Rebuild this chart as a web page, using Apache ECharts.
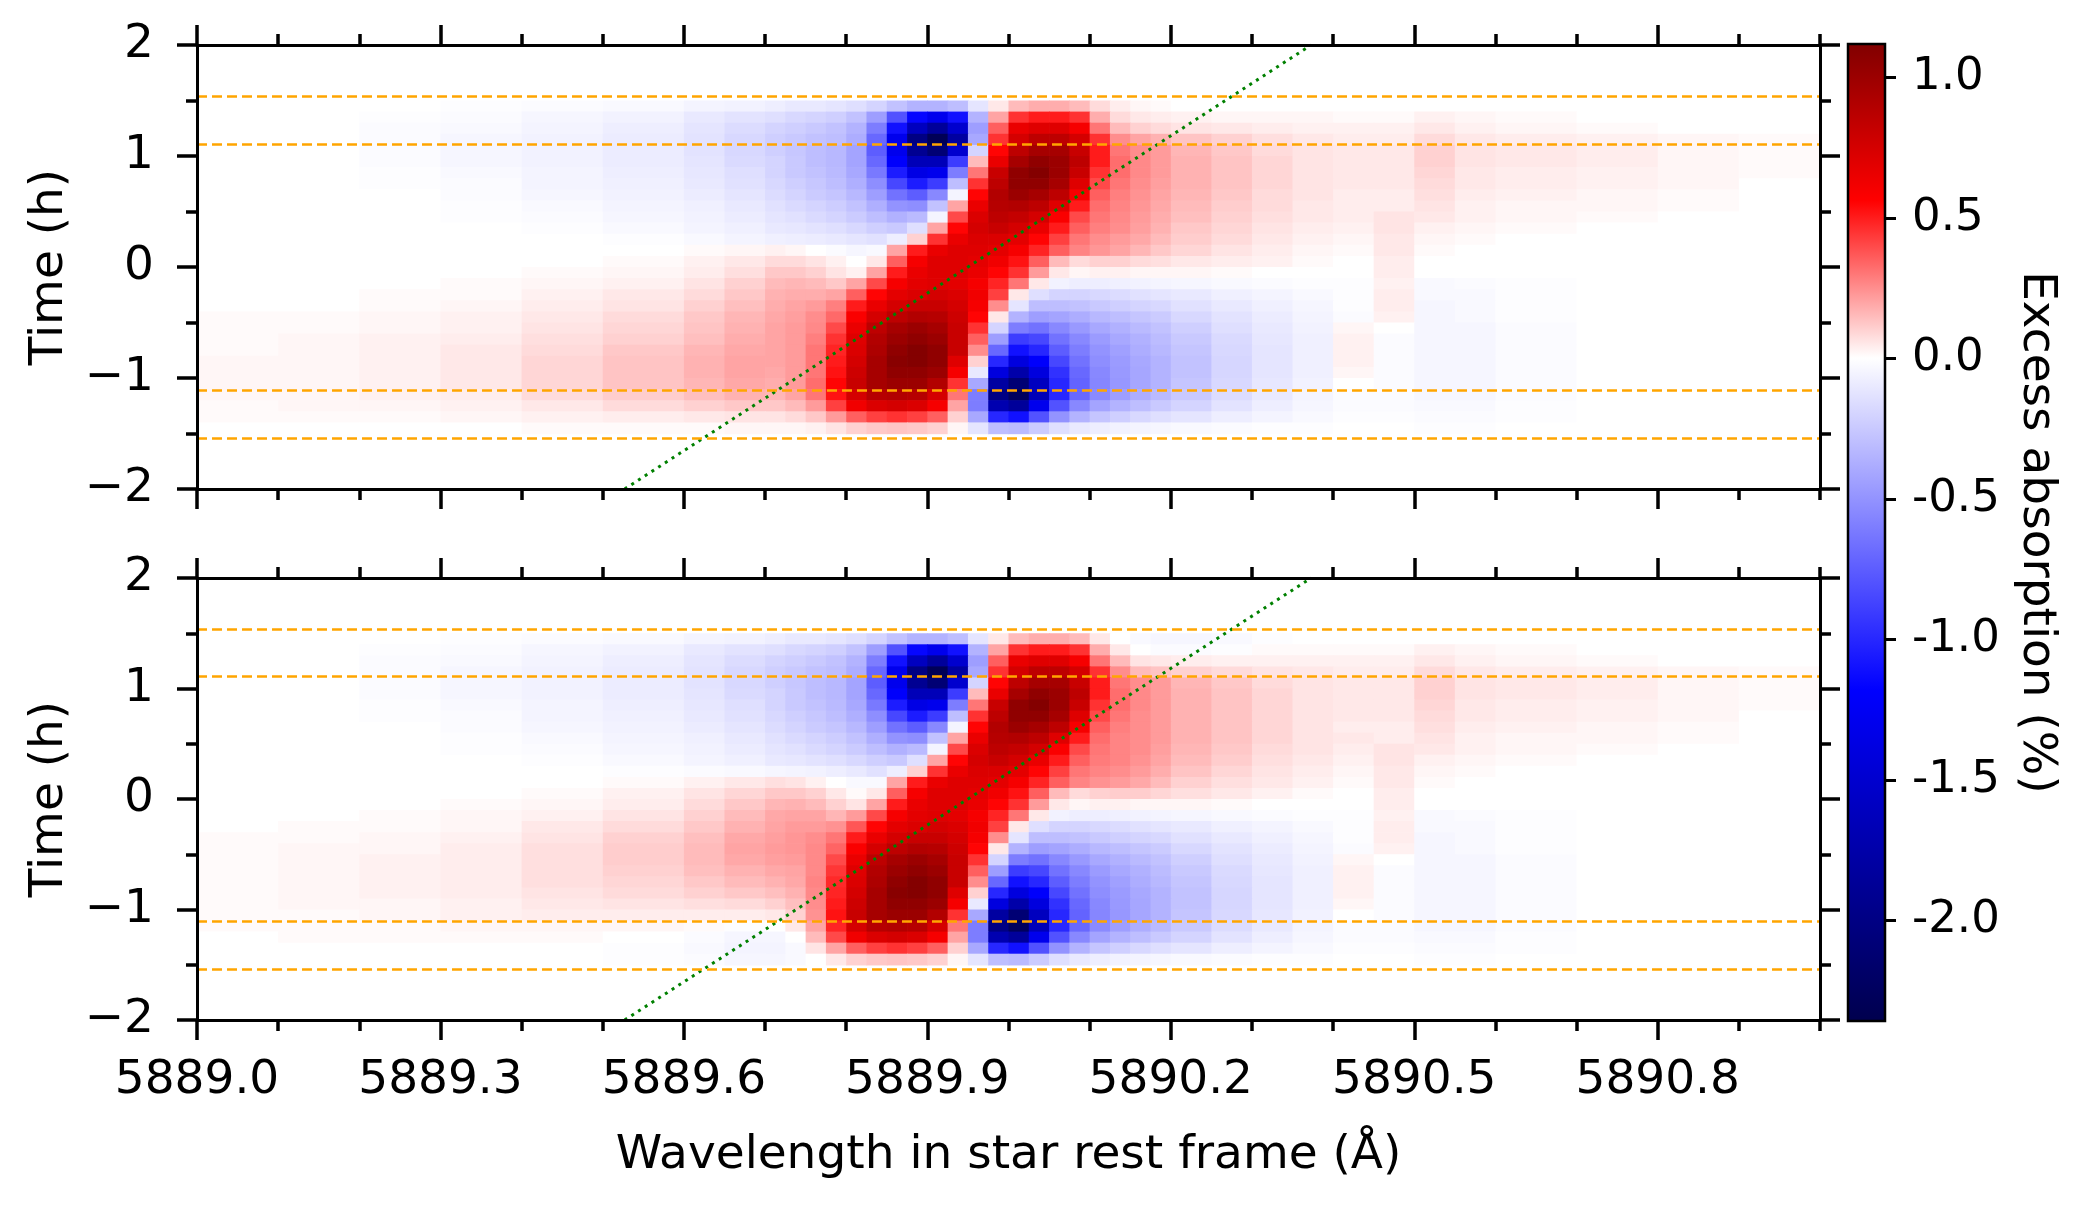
<!DOCTYPE html>
<html>
<head>
<meta charset="utf-8">
<script src="https://cdn.jsdelivr.net/npm/echarts@6/dist/echarts.min.js"></script>
<style>
  html, body { margin: 0; padding: 0; background: #fff; }
  #main { width: 2080px; height: 1205px; }
</style>
</head>
<body>
<div id="main"></div>
<script>
// cell edges in wavelength (Å) and time (h); finer columns around the line core
const waveEdges = [5889.0, 5889.1, 5889.2, 5889.3, 5889.4, 5889.5, 5889.6, 5889.65, 5889.7,
  5889.725, 5889.75, 5889.775, 5889.8, 5889.825, 5889.85, 5889.875, 5889.9, 5889.925, 5889.95,
  5889.975, 5890.0, 5890.025, 5890.05, 5890.075, 5890.1, 5890.125, 5890.15, 5890.175, 5890.2,
  5890.25, 5890.3, 5890.35, 5890.4, 5890.45, 5890.5, 5890.55, 5890.6, 5890.7, 5890.8, 5890.9, 5891.0];
const timeEdges = [1.5, 1.4, 1.3, 1.2, 1.1, 1.0, 0.9, 0.8, 0.7, 0.6, 0.5, 0.4, 0.3, 0.2, 0.1, 0.0,
  -0.1, -0.2, -0.3, -0.4, -0.5, -0.6, -0.7, -0.8, -0.9, -1.0, -1.1, -1.2, -1.3, -1.4, -1.5];

// excess absorption (%), one row per time step from t=1.45 down to t=-1.45
const topPanel = [
  [0,0,0,-0.01,-0.02,-0.03,-0.05,-0.06, -0.08,-0.1,-0.1,-0.12,-0.15,-0.2,-0.28,-0.35,-0.35,-0.3,-0.12,0.05,0.15,0.18,0.18,0.15,0.08,0.04,0.02,0.01, 0,0,0,0,0,0,0,0,0,0,0,0],
  [0,0,-0.01,-0.02,-0.04,-0.06,-0.1,-0.13, -0.15,-0.18,-0.2,-0.22,-0.28,-0.45,-0.8,-1.15,-1.3,-1.1,-0.35,0.2,0.45,0.5,0.5,0.45,0.18,0.08,0.05,0.04, 0.03,0.02,0.02,0.02,0.01,0.01,0.03,0.02,0.01,0,0,0],
  [0,0,-0.02,-0.03,-0.05,-0.08,-0.12,-0.16, -0.2,-0.22,-0.25,-0.28,-0.35,-0.6,-1.1,-1.6,-1.85,-1.5,-0.45,0.35,0.65,0.7,0.7,0.6,0.3,0.15,0.1,0.08, 0.06,0.05,0.04,0.03,0.03,0.03,0.05,0.03,0.02,0.01,0,0],
  [0,0,-0.02,-0.04,-0.06,-0.09,-0.13,-0.18, -0.22,-0.25,-0.28,-0.3,-0.38,-0.7,-1.3,-2.0,-2.3,-1.8,-0.4,0.45,0.75,0.85,0.85,0.75,0.45,0.25,0.2,0.17, 0.13,0.1,0.07,0.05,0.04,0.04,0.08,0.05,0.04,0.03,0.02,0.01],
  [0,0,-0.02,-0.04,-0.06,-0.09,-0.13,-0.18, -0.22,-0.26,-0.3,-0.33,-0.42,-0.75,-1.3,-1.9,-2.1,-1.5,-0.2,0.55,0.85,0.95,0.95,0.8,0.5,0.3,0.25,0.22, 0.16,0.12,0.08,0.06,0.05,0.05,0.1,0.06,0.05,0.04,0.02,0.01],
  [0,0,-0.02,-0.04,-0.06,-0.09,-0.12,-0.17, -0.2,-0.25,-0.3,-0.33,-0.42,-0.7,-1.2,-1.65,-1.65,-0.9,0.15,0.65,0.95,1.05,1.0,0.85,0.5,0.32,0.26,0.22, 0.17,0.13,0.09,0.06,0.05,0.05,0.1,0.06,0.05,0.04,0.02,0.01],
  [0,0,-0.01,-0.03,-0.05,-0.08,-0.11,-0.15, -0.2,-0.25,-0.28,-0.32,-0.4,-0.62,-1.05,-1.35,-1.3,-0.6,0.3,0.8,1.05,1.1,1.0,0.8,0.45,0.32,0.26,0.22, 0.17,0.13,0.09,0.06,0.05,0.05,0.09,0.05,0.04,0.03,0.02,0.01],
  [0,0,-0.01,-0.02,-0.05,-0.07,-0.1,-0.14, -0.18,-0.22,-0.26,-0.3,-0.37,-0.52,-0.85,-1.05,-0.9,-0.3,0.45,0.85,1.05,1.05,0.95,0.7,0.4,0.3,0.25,0.21, 0.17,0.13,0.09,0.06,0.05,0.05,0.08,0.05,0.04,0.03,0.02,0],
  [0,0,0,-0.02,-0.04,-0.06,-0.09,-0.12, -0.16,-0.2,-0.24,-0.27,-0.33,-0.45,-0.65,-0.75,-0.55,-0.05,0.55,0.9,1.0,0.95,0.85,0.6,0.35,0.28,0.24,0.2, 0.16,0.12,0.08,0.06,0.04,0.04,0.07,0.04,0.03,0.02,0.01,0],
  [0,0,0,-0.01,-0.03,-0.05,-0.07,-0.1, -0.14,-0.17,-0.2,-0.23,-0.28,-0.37,-0.5,-0.52,-0.28,0.2,0.65,0.88,0.9,0.85,0.7,0.5,0.32,0.27,0.23,0.19, 0.15,0.11,0.08,0.05,0.04,0.04,0.06,0.03,0.02,0.02,0.01,0],
  [0,0,0,-0.01,-0.02,-0.04,-0.06,-0.09, -0.12,-0.14,-0.17,-0.2,-0.24,-0.3,-0.36,-0.32,-0.05,0.4,0.72,0.85,0.82,0.75,0.58,0.4,0.3,0.26,0.22,0.18, 0.14,0.1,0.07,0.05,0.04,0.06,0.05,0.03,0.02,0.01,0,0],
  [0,0,0,0,-0.01,-0.03,-0.05,-0.07, -0.1,-0.11,-0.13,-0.15,-0.18,-0.22,-0.25,-0.15,0.2,0.55,0.75,0.8,0.75,0.65,0.5,0.35,0.28,0.25,0.21,0.17, 0.12,0.09,0.06,0.04,0.03,0.06,0.03,0.02,0.01,0,0,0],
  [0,0,0,0,0,-0.01,-0.03,-0.05, -0.07,-0.08,-0.09,-0.1,-0.12,-0.14,-0.08,0.1,0.45,0.65,0.72,0.72,0.68,0.55,0.42,0.3,0.25,0.22,0.19,0.15, 0.11,0.08,0.05,0.03,0.02,0.05,0.02,0.01,0,0,0,0],
  [0,0,0,0,0,0,0.01,0.02, 0.03,0.02,0,-0.02,-0.04,-0.03,0.2,0.5,0.65,0.7,0.7,0.68,0.6,0.48,0.35,0.27,0.23,0.2,0.16,0.12, 0.09,0.06,0.04,0.02,0.01,0.05,0.01,0,0,0,0,0],
  [0,0,0,0,0,0.01,0.03,0.05, 0.08,0.08,0.06,0.03,0,0.05,0.35,0.6,0.7,0.7,0.68,0.62,0.52,0.35,0.15,0.08,0.1,0.1,0.08,0.07, 0.05,0.04,0.03,0.01,0,0.04,0,0,0,0,0,0],
  [0,0,0,0,0.01,0.02,0.04,0.07, 0.12,0.12,0.1,0.06,0.03,0.2,0.5,0.65,0.7,0.7,0.65,0.55,0.45,0.22,0.05,0.02,0.03,0.03,0.02,0.02, 0.02,0.01,0,0,0,0.04,0,0,0,0,0,0],
  [0,0,0,0.01,0.02,0.03,0.06,0.1, 0.15,0.16,0.15,0.12,0.2,0.4,0.6,0.68,0.7,0.68,0.6,0.48,0.3,0.05,-0.06,-0.08,-0.08,-0.07,-0.06,-0.05, -0.04,-0.03,-0.02,-0.01,-0.01,0.03,-0.03,-0.02,-0.01,0,0,0],
  [0,0,0.01,0.01,0.03,0.05,0.08,0.12, 0.17,0.18,0.18,0.2,0.35,0.55,0.68,0.72,0.75,0.72,0.62,0.42,0.05,-0.15,-0.2,-0.2,-0.18,-0.16,-0.14,-0.12, -0.1,-0.07,-0.05,-0.03,-0.01,0.04,-0.03,-0.03,-0.01,0,0,0],
  [0,0,0.01,0.02,0.04,0.06,0.1,0.14, 0.18,0.2,0.22,0.28,0.5,0.65,0.75,0.8,0.8,0.75,0.6,0.25,-0.12,-0.3,-0.3,-0.28,-0.25,-0.22,-0.2,-0.18, -0.14,-0.1,-0.07,-0.04,-0.01,0.04,-0.04,-0.03,-0.01,0,0,0],
  [0.01,0.01,0.02,0.03,0.05,0.08,0.12,0.16, 0.19,0.21,0.25,0.33,0.58,0.75,0.85,0.9,0.88,0.78,0.55,0.05,-0.35,-0.45,-0.42,-0.38,-0.33,-0.3,-0.27,-0.24, -0.18,-0.13,-0.09,-0.05,-0.02,0.03,-0.04,-0.03,-0.01,0,0,0],
  [0.01,0.01,0.02,0.03,0.06,0.09,0.13,0.17, 0.2,0.22,0.26,0.4,0.65,0.85,0.95,1.0,0.95,0.8,0.45,-0.2,-0.6,-0.65,-0.55,-0.47,-0.4,-0.36,-0.32,-0.28, -0.22,-0.15,-0.1,-0.06,0.02,0,-0.04,-0.04,-0.02,0,0,0],
  [0.01,0.02,0.03,0.04,0.07,0.1,0.14,0.18, 0.2,0.22,0.28,0.45,0.7,0.9,1.0,1.05,1.0,0.8,0.35,-0.45,-0.9,-0.85,-0.65,-0.55,-0.46,-0.4,-0.36,-0.31, -0.25,-0.17,-0.11,-0.07,0.03,-0.02,-0.04,-0.04,-0.02,0,0,0],
  [0.01,0.02,0.03,0.05,0.08,0.12,0.16,0.19, 0.2,0.22,0.3,0.48,0.72,0.92,1.05,1.1,1.05,0.8,0.25,-0.7,-1.1,-1.0,-0.75,-0.6,-0.5,-0.44,-0.38,-0.33, -0.27,-0.18,-0.12,-0.07,0.03,-0.02,-0.04,-0.04,-0.02,0,0,0],
  [0.02,0.02,0.03,0.05,0.09,0.13,0.17,0.2, 0.2,0.22,0.3,0.5,0.75,0.95,1.08,1.1,1.05,0.7,0.1,-1.0,-1.4,-1.2,-0.85,-0.65,-0.52,-0.46,-0.4,-0.35, -0.28,-0.19,-0.12,-0.07,0.03,-0.02,-0.04,-0.04,-0.02,0,0,0],
  [0.02,0.02,0.03,0.05,0.09,0.13,0.17,0.2, 0.19,0.22,0.3,0.52,0.78,0.95,1.05,1.05,1.0,0.6,-0.1,-1.4,-1.75,-1.4,-0.95,-0.7,-0.55,-0.47,-0.41,-0.35, -0.28,-0.19,-0.12,-0.07,0.02,-0.02,-0.04,-0.04,-0.02,0,0,0],
  [0.02,0.02,0.03,0.05,0.09,0.13,0.16,0.19, 0.18,0.22,0.32,0.55,0.8,0.95,1.0,1.0,0.9,0.45,-0.4,-1.8,-2.1,-1.6,-1.0,-0.72,-0.56,-0.48,-0.41,-0.35, -0.27,-0.18,-0.11,-0.06,0,-0.02,-0.04,-0.04,-0.02,0,0,0],
  [0.02,0.02,0.03,0.04,0.08,0.11,0.14,0.17, 0.16,0.2,0.3,0.52,0.75,0.88,0.9,0.88,0.75,0.3,-0.6,-2.0,-2.25,-1.65,-1.0,-0.7,-0.54,-0.45,-0.38,-0.32, -0.25,-0.16,-0.1,-0.05,-0.02,-0.02,-0.04,-0.04,-0.02,0,0,0],
  [0.01,0.02,0.02,0.03,0.05,0.08,0.1,0.12, 0.12,0.15,0.22,0.42,0.62,0.72,0.75,0.72,0.6,0.2,-0.6,-1.7,-1.85,-1.3,-0.8,-0.55,-0.42,-0.35,-0.3,-0.25, -0.2,-0.13,-0.08,-0.04,-0.02,-0.02,-0.03,-0.03,-0.01,0,0,0],
  [0.01,0.01,0.01,0.02,0.03,0.04,0.05,0.06, 0.06,0.08,0.12,0.22,0.35,0.42,0.45,0.42,0.35,0.1,-0.4,-1.0,-1.1,-0.8,-0.5,-0.35,-0.27,-0.22,-0.18,-0.15, -0.12,-0.08,-0.05,-0.03,-0.01,-0.01,-0.02,-0.02,-0.01,0,0,0],
  [0,0,0,0,0.01,0.01,0.01,0.02, 0.02,0.02,0.03,0.06,0.1,0.12,0.13,0.12,0.1,0.02,-0.12,-0.3,-0.32,-0.24,-0.15,-0.1,-0.08,-0.06,-0.05,-0.04, -0.03,-0.02,-0.01,-0.01,0,0,-0.01,-0.01,0,0,0,0]
];

const bottomPanel = [
  [0,0,0,-0.01,-0.02,-0.03,-0.05,-0.06, -0.08,-0.1,-0.1,-0.12,-0.15,-0.2,-0.28,-0.35,-0.35,-0.3,-0.12,0.05,0.15,0.18,0.18,0.15,0.05,0,-0.03,-0.04, -0.04,-0.03,-0.01,0,0,0,0,0,0,0,0,0],
  [0,0,-0.01,-0.02,-0.04,-0.06,-0.1,-0.13, -0.15,-0.18,-0.2,-0.22,-0.28,-0.45,-0.8,-1.15,-1.3,-1.1,-0.35,0.2,0.45,0.5,0.5,0.45,0.18,0.05,0,-0.02, -0.02,-0.01,0.01,0.01,0.01,0.01,0.03,0.02,0.01,0,0,0],
  [0,0,-0.02,-0.03,-0.05,-0.08,-0.12,-0.16, -0.2,-0.22,-0.25,-0.28,-0.35,-0.6,-1.1,-1.6,-1.85,-1.5,-0.45,0.35,0.65,0.7,0.7,0.6,0.3,0.15,0.06,0.05, 0.04,0.03,0.03,0.03,0.03,0.03,0.05,0.03,0.02,0.01,0,0],
  [0,0,-0.02,-0.04,-0.06,-0.09,-0.13,-0.18, -0.22,-0.25,-0.28,-0.3,-0.38,-0.7,-1.3,-2.0,-2.3,-1.8,-0.4,0.45,0.75,0.85,0.85,0.75,0.45,0.25,0.15,0.13, 0.1,0.08,0.06,0.05,0.04,0.04,0.08,0.05,0.04,0.03,0.02,0.01],
  [0,0,-0.02,-0.04,-0.06,-0.09,-0.13,-0.18, -0.22,-0.26,-0.3,-0.33,-0.42,-0.75,-1.3,-1.9,-2.1,-1.5,-0.2,0.55,0.85,0.95,0.95,0.8,0.5,0.3,0.25,0.22, 0.16,0.12,0.08,0.06,0.05,0.05,0.1,0.06,0.05,0.04,0.02,0.01],
  [0,0,-0.02,-0.04,-0.06,-0.09,-0.12,-0.17, -0.2,-0.25,-0.3,-0.33,-0.42,-0.7,-1.2,-1.65,-1.65,-0.9,0.15,0.65,0.95,1.05,1.0,0.85,0.5,0.32,0.26,0.22, 0.17,0.13,0.09,0.06,0.05,0.05,0.1,0.06,0.05,0.04,0.02,0.01],
  [0,0,-0.01,-0.03,-0.05,-0.08,-0.11,-0.15, -0.2,-0.25,-0.28,-0.32,-0.4,-0.62,-1.05,-1.35,-1.3,-0.6,0.3,0.8,1.05,1.1,1.0,0.8,0.45,0.32,0.26,0.22, 0.17,0.13,0.09,0.06,0.05,0.05,0.09,0.05,0.04,0.03,0.02,0.01],
  [0,0,-0.01,-0.02,-0.05,-0.07,-0.1,-0.14, -0.18,-0.22,-0.26,-0.3,-0.37,-0.52,-0.85,-1.05,-0.9,-0.3,0.45,0.85,1.05,1.05,0.95,0.7,0.4,0.3,0.25,0.22, 0.17,0.13,0.09,0.06,0.05,0.05,0.08,0.05,0.04,0.03,0.02,0],
  [0,0,0,-0.02,-0.04,-0.06,-0.09,-0.12, -0.16,-0.2,-0.24,-0.27,-0.33,-0.45,-0.65,-0.75,-0.55,-0.05,0.55,0.9,1.0,0.95,0.85,0.6,0.35,0.28,0.25,0.22, 0.17,0.13,0.09,0.06,0.04,0.04,0.07,0.04,0.03,0.02,0.01,0],
  [0,0,0,-0.01,-0.03,-0.05,-0.07,-0.1, -0.14,-0.17,-0.2,-0.23,-0.28,-0.37,-0.5,-0.52,-0.28,0.2,0.65,0.88,0.9,0.85,0.7,0.5,0.32,0.27,0.25,0.22, 0.17,0.13,0.09,0.06,0.05,0.04,0.06,0.03,0.02,0.02,0.01,0],
  [0,0,0,-0.01,-0.02,-0.04,-0.06,-0.09, -0.12,-0.14,-0.17,-0.2,-0.24,-0.3,-0.36,-0.32,-0.05,0.4,0.72,0.85,0.82,0.75,0.58,0.4,0.3,0.27,0.25,0.21, 0.16,0.12,0.08,0.06,0.04,0.06,0.05,0.03,0.02,0.01,0,0],
  [0,0,0,0,-0.01,-0.03,-0.05,-0.07, -0.1,-0.11,-0.13,-0.15,-0.18,-0.22,-0.25,-0.15,0.2,0.55,0.75,0.8,0.75,0.65,0.5,0.35,0.29,0.27,0.24,0.2, 0.15,0.11,0.07,0.05,0.03,0.06,0.03,0.02,0.01,0,0,0],
  [0,0,0,0,0,-0.01,-0.02,-0.03, -0.04,-0.05,-0.06,-0.08,-0.1,-0.14,-0.08,0.1,0.45,0.65,0.72,0.72,0.68,0.55,0.42,0.3,0.27,0.25,0.22,0.18, 0.13,0.09,0.06,0.04,0.02,0.05,0.02,0.01,0,0,0,0],
  [0,0,0,0,0,0.01,0.03,0.05, 0.07,0.06,0.03,0,-0.03,-0.03,0.2,0.5,0.65,0.7,0.7,0.68,0.6,0.48,0.35,0.27,0.24,0.22,0.19,0.15, 0.1,0.07,0.05,0.03,0.01,0.05,0.01,0,0,0,0,0],
  [0,0,0,0,0.01,0.03,0.06,0.09, 0.12,0.12,0.1,0.05,0.01,0.05,0.35,0.6,0.7,0.7,0.68,0.62,0.52,0.35,0.15,0.08,0.1,0.11,0.11,0.09, 0.07,0.05,0.03,0.01,0,0.04,0,0,0,0,0,0],
  [0,0,0,0.01,0.02,0.04,0.08,0.12, 0.16,0.17,0.15,0.1,0.06,0.2,0.5,0.65,0.7,0.7,0.65,0.55,0.45,0.22,0.05,0.02,0.03,0.03,0.02,0.02, 0.02,0.01,0,0,0,0.04,0,0,0,0,0,0],
  [0,0,0.01,0.02,0.03,0.06,0.1,0.15, 0.19,0.2,0.2,0.16,0.22,0.4,0.6,0.68,0.7,0.68,0.6,0.48,0.3,0.05,-0.06,-0.08,-0.08,-0.07,-0.06,-0.05, -0.04,-0.03,-0.02,-0.01,-0.01,0.03,-0.03,-0.02,-0.01,0,0,0],
  [0,0.01,0.01,0.02,0.05,0.08,0.12,0.17, 0.2,0.22,0.22,0.24,0.37,0.55,0.68,0.72,0.75,0.72,0.62,0.42,0.05,-0.15,-0.2,-0.2,-0.18,-0.16,-0.14,-0.12, -0.1,-0.07,-0.05,-0.03,-0.01,0.04,-0.03,-0.03,-0.01,0,0,0],
  [0.01,0.01,0.02,0.03,0.06,0.1,0.14,0.19, 0.21,0.23,0.25,0.3,0.5,0.65,0.75,0.8,0.8,0.75,0.6,0.25,-0.12,-0.3,-0.3,-0.28,-0.25,-0.22,-0.2,-0.18, -0.14,-0.1,-0.07,-0.04,-0.01,0.04,-0.04,-0.03,-0.01,0,0,0],
  [0.01,0.02,0.02,0.04,0.07,0.11,0.15,0.2, 0.22,0.23,0.26,0.34,0.58,0.75,0.85,0.9,0.88,0.78,0.55,0.05,-0.35,-0.45,-0.42,-0.38,-0.33,-0.3,-0.27,-0.24, -0.18,-0.13,-0.09,-0.05,-0.02,0.03,-0.04,-0.03,-0.01,0,0,0],
  [0.01,0.02,0.03,0.04,0.07,0.11,0.15,0.19, 0.21,0.22,0.26,0.4,0.65,0.85,0.95,1.0,0.95,0.8,0.45,-0.2,-0.6,-0.65,-0.55,-0.47,-0.4,-0.36,-0.32,-0.28, -0.22,-0.15,-0.1,-0.06,0.02,0,-0.04,-0.04,-0.02,0,0,0],
  [0.01,0.02,0.03,0.04,0.07,0.1,0.14,0.17, 0.19,0.2,0.26,0.44,0.7,0.9,1.0,1.05,1.0,0.8,0.35,-0.45,-0.9,-0.85,-0.65,-0.55,-0.46,-0.4,-0.36,-0.31, -0.25,-0.17,-0.11,-0.07,0.03,-0.02,-0.04,-0.04,-0.02,0,0,0],
  [0.01,0.02,0.03,0.04,0.07,0.09,0.12,0.15, 0.17,0.19,0.27,0.47,0.72,0.92,1.05,1.1,1.05,0.8,0.25,-0.7,-1.1,-1.0,-0.75,-0.6,-0.5,-0.44,-0.38,-0.33, -0.27,-0.18,-0.12,-0.07,0.03,-0.02,-0.04,-0.04,-0.02,0,0,0],
  [0.01,0.02,0.03,0.04,0.06,0.08,0.1,0.12, 0.14,0.17,0.26,0.48,0.75,0.95,1.08,1.1,1.05,0.7,0.1,-1.0,-1.4,-1.2,-0.85,-0.65,-0.52,-0.46,-0.4,-0.35, -0.28,-0.19,-0.12,-0.07,0.03,-0.02,-0.04,-0.04,-0.02,0,0,0],
  [0.01,0.02,0.02,0.03,0.05,0.06,0.07,0.08, 0.1,0.14,0.25,0.5,0.78,0.95,1.05,1.05,1.0,0.6,-0.1,-1.4,-1.75,-1.4,-0.95,-0.7,-0.55,-0.47,-0.41,-0.35, -0.28,-0.19,-0.12,-0.07,0.02,-0.02,-0.04,-0.04,-0.02,0,0,0],
  [0.01,0.01,0.02,0.03,0.04,0.04,0.04,0.04, 0.05,0.1,0.24,0.52,0.8,0.95,1.0,1.0,0.9,0.45,-0.4,-1.8,-2.1,-1.6,-1.0,-0.72,-0.56,-0.48,-0.41,-0.35, -0.27,-0.18,-0.11,-0.06,0,-0.02,-0.04,-0.04,-0.02,0,0,0],
  [0.01,0.01,0.01,0.02,0.02,0.02,0.01,-0.01, 0,0.05,0.2,0.48,0.75,0.88,0.9,0.88,0.75,0.3,-0.6,-2.0,-2.25,-1.65,-1.0,-0.7,-0.54,-0.45,-0.38,-0.32, -0.25,-0.16,-0.1,-0.05,-0.02,-0.02,-0.04,-0.04,-0.02,0,0,0],
  [0,0.01,0.01,0.01,0.01,0,-0.02,-0.04, -0.04,0,0.15,0.4,0.62,0.72,0.75,0.72,0.6,0.2,-0.6,-1.7,-1.85,-1.3,-0.8,-0.55,-0.42,-0.35,-0.3,-0.25, -0.2,-0.13,-0.08,-0.04,-0.02,-0.02,-0.03,-0.03,-0.01,0,0,0],
  [0,0,0,0,0,-0.01,-0.03,-0.05, -0.05,-0.03,0.06,0.2,0.35,0.42,0.45,0.42,0.35,0.1,-0.4,-1.0,-1.1,-0.8,-0.5,-0.35,-0.27,-0.22,-0.18,-0.15, -0.12,-0.08,-0.05,-0.03,-0.01,-0.01,-0.02,-0.02,-0.01,0,0,0],
  [0,0,0,0,0,-0.01,-0.02,-0.04, -0.04,-0.03,0,0.05,0.1,0.12,0.13,0.12,0.1,0.02,-0.12,-0.3,-0.32,-0.24,-0.15,-0.1,-0.08,-0.06,-0.05,-0.04, -0.03,-0.02,-0.01,-0.01,0,0,-0.01,-0.01,0,0,0,0]
];

const waveTicks = [5889.0, 5889.3, 5889.6, 5889.9, 5890.2, 5890.5, 5890.8];
const timeTicks = [-2, -1, 0, 1, 2];
const cbarTicks = [-2.0, -1.5, -1.0, -0.5, 0.0, 0.5, 1.0];
const contactTimes = [-1.545, -1.113, 1.113, 1.545];
const guideWave = [5889.527, 5890.373];
const guideTime = [-2, 2];
const vmin = -2.357, vmax = 1.119;

const FONT = 'DejaVu Sans';

// matplotlib "seismic" with a two-slope norm centred on zero
const seismicAnchors = [[0, [0, 0, 77]], [0.25, [0, 0, 255]], [0.5, [255, 255, 255]], [0.75, [255, 0, 0]], [1, [128, 0, 0]]];
function normValue(v) {
    if (v >= 0) return 0.5 + 0.5 * Math.min(v / vmax, 1);
    return 0.5 - 0.5 * Math.min(v / vmin, 1);
}
function seismic(v) {
    const p = normValue(v);
    for (let i = 1; i < seismicAnchors.length; i++) {
        const a = seismicAnchors[i - 1], b = seismicAnchors[i];
        if (p <= b[0]) {
            const f = (p - a[0]) / (b[0] - a[0]);
            const c = a[1].map((x, k) => Math.round(x + (b[1][k] - x) * f));
            return 'rgb(' + c.join(',') + ')';
        }
    }
    return 'rgb(128,0,0)';
}

function cells(grid) {
    const out = [];
    grid.forEach((row, i) => {
        row.forEach((v, j) => {
            out.push([waveEdges[j], waveEdges[j + 1], timeEdges[i + 1], timeEdges[i], v]);
        });
    });
    return out;
}

function renderCell(params, api) {
    const p0 = api.coord([api.value(0), api.value(3)]);
    const p1 = api.coord([api.value(1), api.value(2)]);
    return {
        type: 'rect',
        shape: { x: p0[0], y: p0[1], width: p1[0] - p0[0] + 0.7, height: p1[1] - p0[1] + 0.7 },
        style: { fill: seismic(api.value(4)) }
    };
}

const black = '#000';
const spine = { show: true, onZero: false, lineStyle: { color: black, width: 3 } };
const noLine = { show: false, onZero: false };
const tickStyle = { color: black, width: 3.5 };
const labelText = { color: black, fontSize: 47, fontFamily: FONT };

function waveAxes(gridIndex, withLabels) {
    const base = { gridIndex: gridIndex, type: 'value', min: 5889, max: 5891, z: 10, splitLine: { show: false } };
    const major = (position, labels) => Object.assign({}, base, {
        position: position,
        axisLine: spine,
        axisTick: { show: true, customValues: waveTicks, length: 20, lineStyle: tickStyle },
        axisLabel: Object.assign({ show: labels, customValues: waveTicks, margin: 37, formatter: v => v.toFixed(1) }, labelText),
        name: labels ? 'Wavelength in star rest frame (Å)' : '',
        nameLocation: 'middle',
        nameGap: 112,
        nameMoveOverlap: false,
        nameTextStyle: labelText
    });
    const minor = position => Object.assign({}, base, {
        position: position,
        interval: 0.1,
        axisLine: noLine,
        axisTick: { show: true, length: 11, lineStyle: tickStyle },
        axisLabel: { show: false }
    });
    return [major('bottom', withLabels), minor('bottom'), major('top', false), minor('top')];
}

function timeAxes(gridIndex) {
    const base = { gridIndex: gridIndex, type: 'value', min: -2, max: 2, z: 10, splitLine: { show: false } };
    const major = (position, labels) => Object.assign({}, base, {
        position: position,
        interval: 1,
        axisLine: spine,
        axisTick: { show: true, customValues: timeTicks, length: 20, lineStyle: tickStyle },
        axisLabel: Object.assign({ show: labels, customValues: timeTicks, margin: 43,
            formatter: v => (v < 0 ? '\u2212' + Math.abs(v) : String(v)) }, labelText),
        name: labels ? 'Time (h)' : '',
        nameLocation: 'middle',
        nameRotate: 90,
        nameGap: 124,
        nameMoveOverlap: false,
        nameTextStyle: labelText
    });
    const minor = position => Object.assign({}, base, {
        position: position,
        interval: 0.5,
        axisLine: noLine,
        axisTick: { show: true, length: 11, lineStyle: tickStyle },
        axisLabel: { show: false }
    });
    return [major('left', true), minor('left'), major('right', false), minor('right')];
}

function panelSeries(grid, axisIndex) {
    return [
        {
            type: 'custom',
            xAxisIndex: axisIndex,
            yAxisIndex: axisIndex,
            data: cells(grid),
            encode: { x: [0, 1], y: [2, 3] },
            renderItem: renderCell,
            clip: true,
            silent: true,
            z: 1
        },
        {
            type: 'line',
            xAxisIndex: axisIndex,
            yAxisIndex: axisIndex,
            data: guideWave.map((w, i) => [w, guideTime[i]]),
            symbol: 'none',
            silent: true,
            z: 3,
            lineStyle: { color: '#008000', width: 3, type: [3, 5] },
            markLine: {
                silent: true,
                symbol: ['none', 'none'],
                label: { show: false },
                lineStyle: { color: '#FFA500', width: 2.6, type: [10, 5] },
                data: contactTimes.map(t => ({ yAxis: t }))
            }
        }
    ];
}

// colour bar geometry (px)
const cbar = { left: 1848, top: 44, width: 37, height: 977 };
const cbarStops = seismicAnchors.map(a => {
    const p = a[0];
    const v = p >= 0.5 ? (p - 0.5) * 2 * vmax : (0.5 - p) * 2 * vmin;
    return { offset: (vmax - v) / (vmax - vmin), color: 'rgb(' + a[1].join(',') + ')' };
}).sort((a, b) => a.offset - b.offset);

const chartDom = document.getElementById('main');
const myChart = echarts.init(chartDom);

const option = {
    animation: false,
    backgroundColor: '#fff',
    grid: [
        { left: 197, top: 45, width: 1623, height: 444, outerBoundsMode: 'none' },
        { left: 197, top: 578, width: 1623, height: 442, outerBoundsMode: 'none' },
        { left: cbar.left, top: cbar.top, width: cbar.width, height: cbar.height, outerBoundsMode: 'none' }
    ],
    xAxis: [].concat(
        waveAxes(0, false),
        waveAxes(1, true),
        [{ gridIndex: 2, type: 'value', min: 0, max: 1, show: false }]
    ),
    yAxis: [].concat(
        timeAxes(0),
        timeAxes(1),
        [{
            gridIndex: 2, type: 'value', position: 'right', min: vmin, max: vmax,
            axisLine: noLine,
            axisTick: { show: true, customValues: cbarTicks, length: 11, lineStyle: { color: black, width: 3 } },
            axisLabel: { customValues: cbarTicks, margin: 27, formatter: v => v.toFixed(1),
                color: black, fontSize: 45, fontFamily: FONT },
            splitLine: { show: false },
            name: 'Excess absorption (%)',
            nameLocation: 'middle',
            nameRotate: -90,
            nameGap: 128,
            nameMoveOverlap: false,
            nameTextStyle: labelText
        }]
    ),
    series: [].concat(panelSeries(topPanel, 0), panelSeries(bottomPanel, 4)),
    graphic: [{
        type: 'rect',
        z: 10,
        shape: { x: cbar.left, y: cbar.top, width: cbar.width, height: cbar.height },
        style: {
            fill: new echarts.graphic.LinearGradient(0, 0, 0, 1, cbarStops),
            stroke: black,
            lineWidth: 2.5
        }
    }]
};

myChart.setOption(option);

window.addEventListener('resize', function () {
    myChart.resize();
});
</script>
</body>
</html>
